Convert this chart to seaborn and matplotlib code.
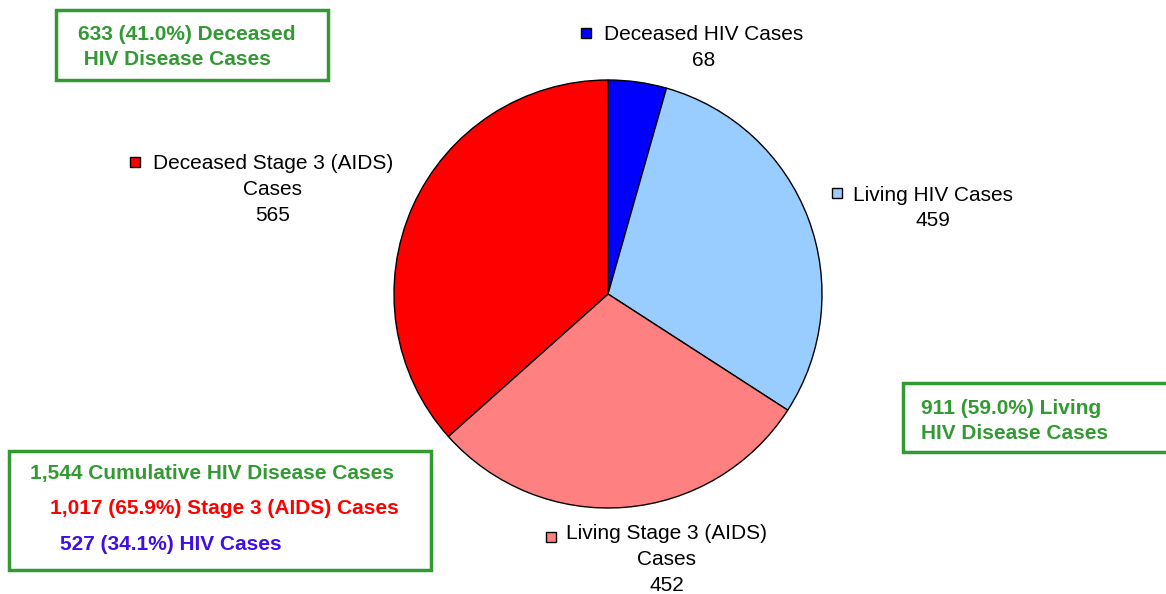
import matplotlib
matplotlib.use("Agg")
import matplotlib.pyplot as plt
from matplotlib.patches import Rectangle
import seaborn as sns

# slice data, clockwise from 12 o'clock
labels = ["Deceased HIV Cases", "Living HIV Cases",
          "Living Stage 3 (AIDS)\nCases", "Deceased Stage 3 (AIDS)\nCases"]
values = [68, 459, 452, 565]
colors = ["#0000FF", "#99CCFF", "#FF8080", "#FF0000"]

total = sum(values)
deceased = values[0] + values[3]
living = values[1] + values[2]
stage3 = values[2] + values[3]
hiv = values[0] + values[1]

GREEN = "#339933"
RED = "#FF0000"
VIOLET = "#3F0FE6"
FS = 15
LS = 1.45

sns.set_theme(style="white")
plt.rcParams["font.family"] = ["Liberation Sans", "DejaVu Sans"]

W, H = 1166, 594
fig = plt.figure(figsize=(W / 100, H / 100), dpi=100)
ax = fig.add_axes([0, 0, 1, 1])

ax.pie(values, colors=colors, startangle=90, counterclock=False,
       center=(608, H - 294), radius=214, frame=True,
       wedgeprops=dict(edgecolor="black", linewidth=1.0))
ax.set_xlim(0, W)
ax.set_ylim(0, H)
ax.set_aspect("equal")
ax.axis("off")

# slice labels: (square x, square y, text center x, text block center y)
label_pos = [(586, 33, 704, 47.5), (837, 193, 933, 208),
             (551, 537, 667, 559.5), (135, 162, 273, 189.5)]
for lab, val, col, (sx, sy, cx, cy) in zip(labels, values, colors, label_pos):
    ax.add_patch(Rectangle((sx - 5, H - sy - 5), 10, 10, facecolor=col,
                           edgecolor="black", linewidth=1.0))
    ax.text(cx, H - cy, f"{lab}\n{val}", ha="center", va="center",
            fontsize=FS, color="black", linespacing=LS)

def green_box(x0, y0, x1, y1):
    ax.add_patch(Rectangle((x0, H - y1), x1 - x0, y1 - y0, facecolor="white",
                           edgecolor=GREEN, linewidth=2.5))

green_box(56, 10, 328, 80)
ax.text(78, H - 47, f"{deceased} ({deceased / total:.1%}) Deceased\n HIV Disease Cases",
        ha="left", va="center", fontsize=FS, fontweight="bold", color=GREEN,
        linespacing=LS)

green_box(903, 383, 1170, 452)
ax.text(921, H - 421, f"{living} ({living / total:.1%}) Living\nHIV Disease Cases",
        ha="left", va="center", fontsize=FS, fontweight="bold", color=GREEN,
        linespacing=LS)

green_box(9, 451, 431, 570)
ax.text(30, H - 474, f"{total:,} Cumulative HIV Disease Cases", ha="left",
        va="center", fontsize=FS, fontweight="bold", color=GREEN)
ax.text(50, H - 509, f"{stage3:,} ({stage3 / total:.1%}) Stage 3 (AIDS) Cases",
        ha="left", va="center", fontsize=FS, fontweight="bold", color=RED)
ax.text(60, H - 545, f"{hiv} ({hiv / total:.1%}) HIV Cases", ha="left",
        va="center", fontsize=FS, fontweight="bold", color=VIOLET)

fig.savefig("out.png", dpi=100, facecolor="white")
